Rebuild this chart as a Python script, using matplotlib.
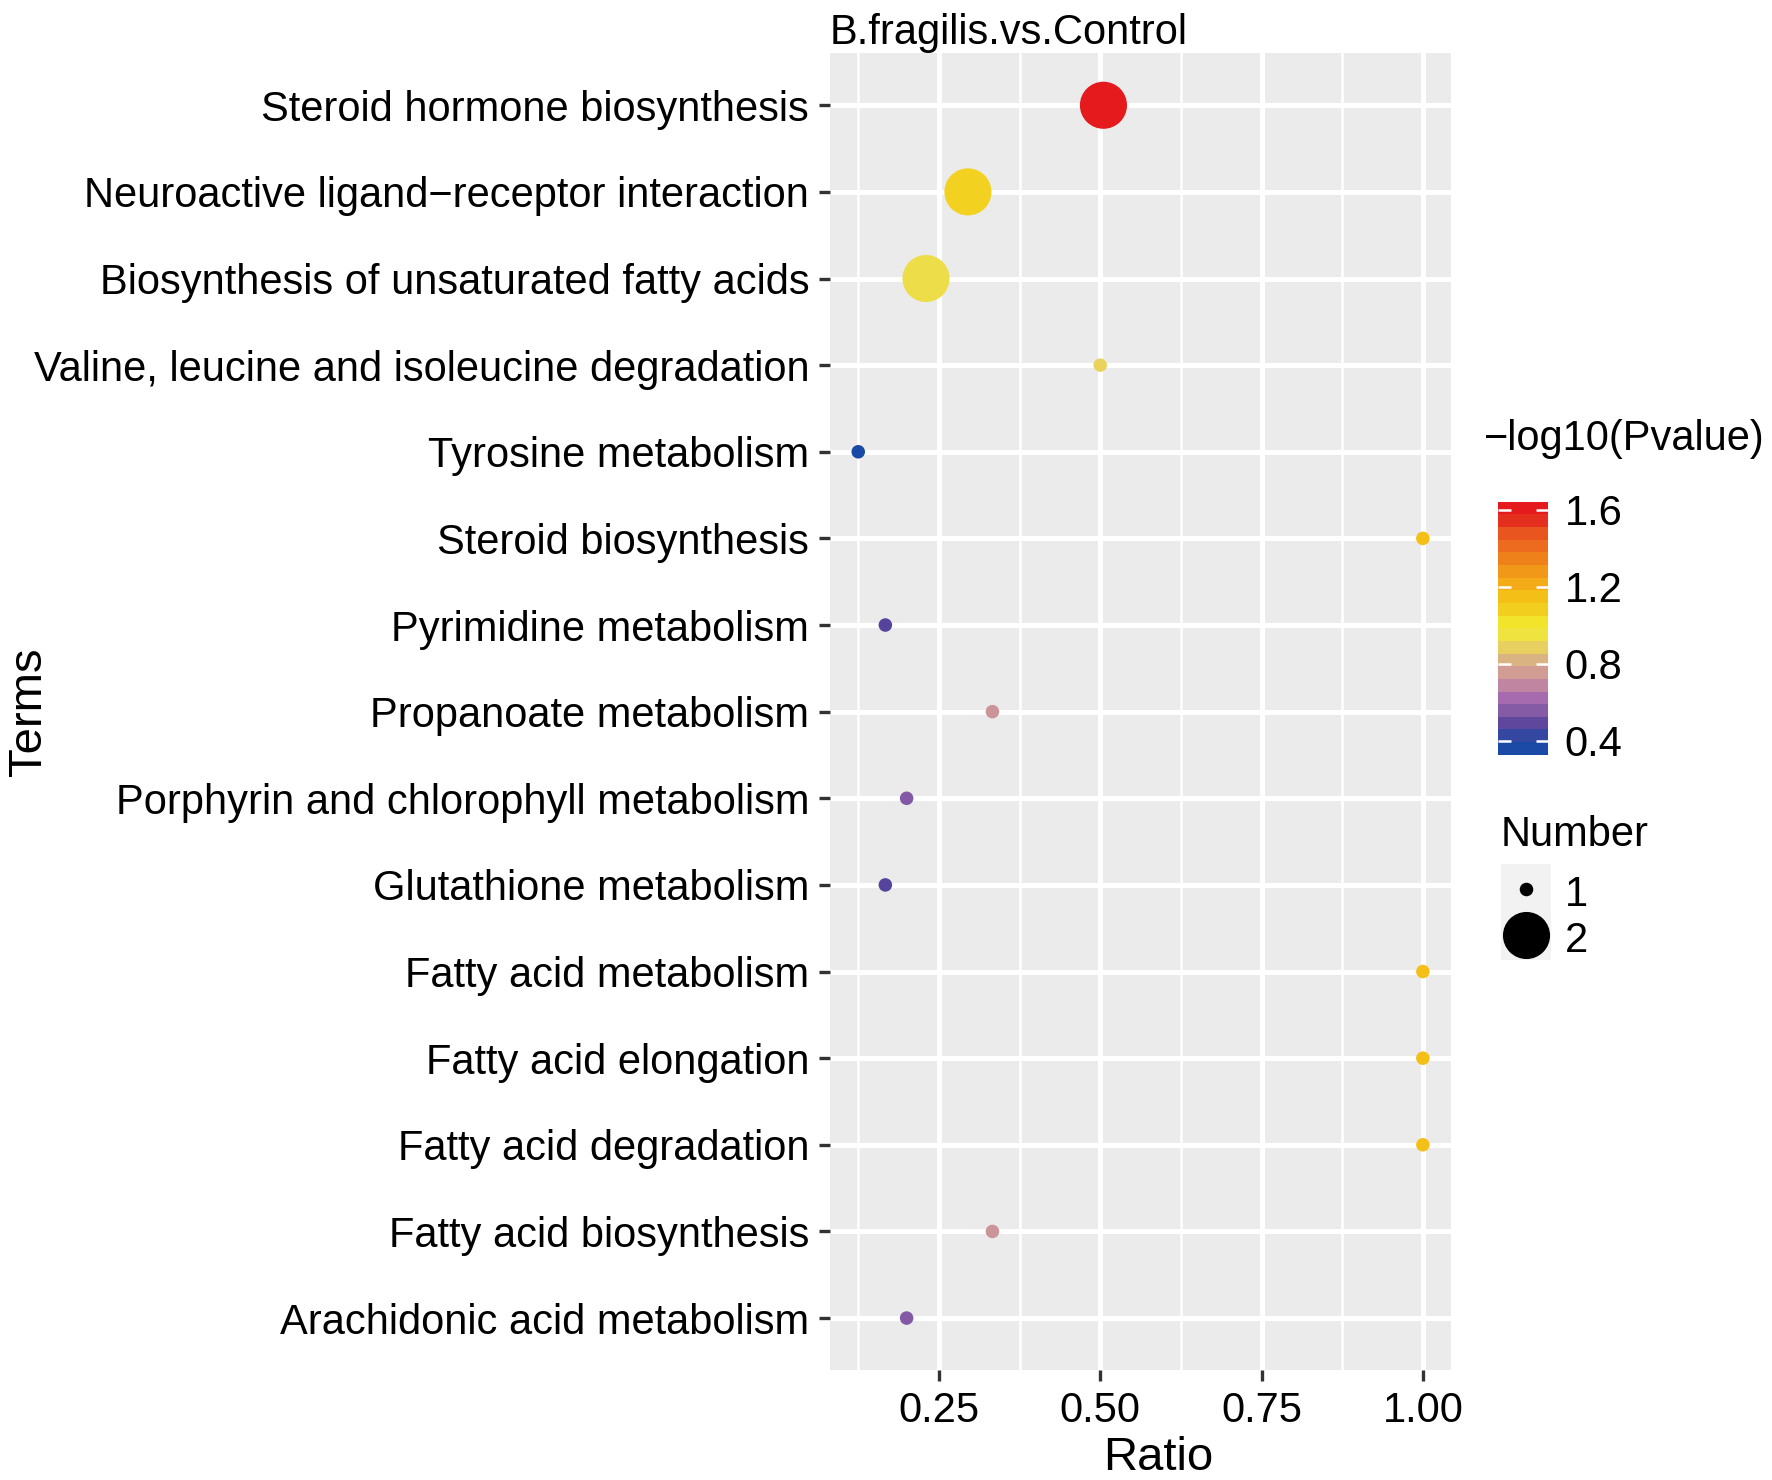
import matplotlib as mpl
import matplotlib.pyplot as plt
import matplotlib.ticker as tick
import numpy as np
from matplotlib.colors import LinearSegmentedColormap, ListedColormap, Normalize
from matplotlib.legend_handler import HandlerTuple
from matplotlib.lines import Line2D

terms = [
    "Steroid hormone biosynthesis",
    "Neuroactive ligand\u2212receptor interaction",
    "Biosynthesis of unsaturated fatty acids",
    "Valine, leucine and isoleucine degradation",
    "Tyrosine metabolism",
    "Steroid biosynthesis",
    "Pyrimidine metabolism",
    "Propanoate metabolism",
    "Porphyrin and chlorophyll metabolism",
    "Glutathione metabolism",
    "Fatty acid metabolism",
    "Fatty acid elongation",
    "Fatty acid degradation",
    "Fatty acid biosynthesis",
    "Arachidonic acid metabolism",
]
ratio = [0.505, 0.295, 0.23, 0.5, 0.125, 1.0, 0.167, 0.333, 0.2, 0.167,
         1.0, 1.0, 1.0, 0.333, 0.2]
logp = [1.642, 1.08, 0.93, 0.89, 0.327, 1.155, 0.445, 0.71, 0.53, 0.445,
        1.155, 1.155, 1.155, 0.71, 0.53]
number = [2, 2, 2, 1, 1, 1, 1, 1, 1, 1, 1, 1, 1, 1, 1]

cbar_ticks = [0.4, 0.8, 1.2, 1.6]
size_levels = [1, 2]

plt.rcParams["font.family"] = ["Liberation Sans", "DejaVu Sans"]

cmap = LinearSegmentedColormap.from_list(
    "kegg",
    [
        (0.0, "#1A4AA6"),
        (0.03, "#1E50A8"),
        (0.073, "#4E409A"),
        (0.12, "#6A4CA0"),
        (0.17, "#9060A8"),
        (0.225, "#B070B0"),
        (0.28, "#C8909A"),
        (0.325, "#D4A090"),
        (0.38, "#DCB880"),
        (0.42, "#E8D060"),
        (0.5, "#F2EC30"),
        (0.576, "#F2D020"),
        (0.62, "#F4C418"),
        (0.675, "#F4B018"),
        (0.72, "#F2A018"),
        (0.77, "#F08A1A"),
        (0.815, "#EE781C"),
        (0.86, "#EC6420"),
        (0.91, "#E8501E"),
        (0.97, "#E41E1E"),
        (1.0, "#E41A1C"),
    ],
)
vmin, vmax = min(logp), max(logp)
norm = Normalize(vmin=vmin, vmax=vmax)


def size_of(n):
    # area in pt^2 for Number 1 / 2
    return np.interp(n, [1, 2], [95, 1150])


fig = plt.figure(figsize=(17.72, 14.8), dpi=100)
ax = fig.add_axes([0.4684, 0.0743, 0.3505, 0.8897])
ax.set_facecolor("#EBEBEB")

# reversed so the first term sits on top
ax.scatter(
    ratio[::-1],
    terms[::-1],
    s=size_of(np.array(number[::-1])),
    c=logp[::-1],
    cmap=cmap,
    norm=norm,
    linewidths=0,
    zorder=3,
)

xmin, xmax = min(ratio), max(ratio)
pad = 0.05 * (xmax - xmin)
ax.set_xlim(xmin - pad, xmax + pad)
ax.set_ylim(-0.6, len(terms) - 0.4)
ax.xaxis.set_major_locator(tick.FixedLocator([0.25, 0.5, 0.75, 1.0]))
ax.xaxis.set_major_formatter(tick.FormatStrFormatter("%.2f"))
ax.xaxis.set_minor_locator(tick.FixedLocator([0.125, 0.375, 0.625, 0.875]))
ax.grid(True, which="major", color="white", linewidth=3.6, zorder=1)
ax.grid(True, which="minor", axis="x", color="white", linewidth=1.8, zorder=1)
ax.set_axisbelow(True)
for sp in ax.spines.values():
    sp.set_visible(False)
ax.tick_params(which="major", length=8, width=2.4, color="#333333",
               labelsize=30, pad=7, labelcolor="black")
ax.tick_params(which="minor", length=0)
ax.set_xlabel("Ratio", fontsize=34, labelpad=4)
ax.xaxis.label.set_x(0.529)
ax.set_ylabel("Terms", fontsize=34, va="center")
ax.yaxis.set_label_coords(-1.29, 0.5)
ax.set_title("B.fragilis.vs.Control", loc="left", fontsize=30, pad=5)

# colour legend
cax = fig.add_axes([0.8455, 0.49, 0.028, 0.171])
bins = ListedColormap(cmap(np.linspace(0, 1, 20)))
sm = mpl.cm.ScalarMappable(norm=norm, cmap=bins)
cb = fig.colorbar(sm, cax=cax, ticks=cbar_ticks)
cb.outline.set_visible(False)
cax.yaxis.set_ticks_position("both")
cax.tick_params(direction="in", length=9, width=1.8, color="white",
                labelsize=30, labelleft=False, labelright=True, pad=12)
cax.yaxis.set_major_formatter(tick.FormatStrFormatter("%.1f"))
fig.text(0.8375, 0.7037, "\u2212log10(Pvalue)", fontsize=30, va="center")

# size legend, keys on a light grey square like ggplot
fig.text(0.847, 0.4357, "Number", fontsize=30, va="center")
handles = [
    (
        Line2D([], [], marker="s", markersize=36, linestyle="none",
               color="#F2F2F2", markeredgewidth=0),
        Line2D([], [], marker="o", markersize=np.sqrt(size_of(n)),
               linestyle="none", color="black", markeredgewidth=0),
    )
    for n in size_levels
]
leg = fig.legend(
    handles,
    [str(n) for n in size_levels],
    handler_map={tuple: HandlerTuple(ndivide=1, pad=0)},
    loc="upper left",
    bbox_to_anchor=(0.8469, 0.4108),
    frameon=False,
    fontsize=30,
    handlelength=1.2,
    handleheight=1.1,
    handletextpad=0.34,
    labelspacing=0.07,
    borderpad=0,
    borderaxespad=0,
)

fig.savefig("out.png", dpi=100)
